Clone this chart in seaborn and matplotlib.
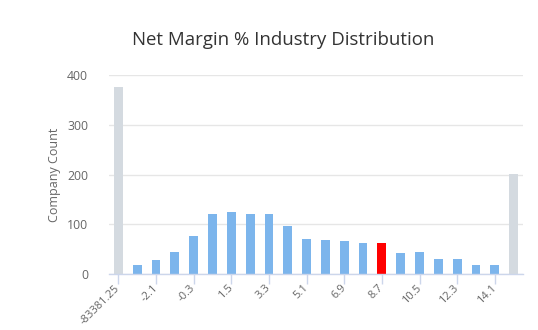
import matplotlib
matplotlib.use("Agg")
import matplotlib.pyplot as plt
import seaborn as sns
import pandas as pd

categories = ["-83381.25", "-3.0", "-2.1", "-1.2", "-0.3", "0.6", "1.5", "2.4", "3.3", "4.2",
              "5.1", "6.0", "6.9", "7.8", "8.7", "9.6", "10.5", "11.4", "12.3", "13.2", "14.1", "15.0"]
counts = [376, 19, 29, 45, 77, 121, 125, 121, 121, 97,
          71, 69, 67, 63, 63, 43, 45, 31, 31, 19, 19, 201]
groups = ["outlier"] + ["normal"] * 13 + ["company"] + ["normal"] * 6 + ["outlier"]
tick_labels = ["-83381.25", "-2.1", "-0.3", "1.5", "3.3", "5.1", "6.9", "8.7", "10.5", "12.3", "14.1"]

df = pd.DataFrame({"bin": categories, "count": counts, "group": groups})

sns.set_theme(style="white")
plt.rcParams["font.family"] = ["Open Sans", "DejaVu Sans"]

fig = plt.figure(figsize=(5.38, 3.30), dpi=100)
ax = fig.add_axes([109 / 538, 1 - 274 / 330, (523 - 109) / 538, (274 - 75) / 330])

palette = {"normal": "#7cb5ec", "outlier": "#d4dae0", "company": "#ff0000"}
sns.barplot(data=df, x="bin", y="count", hue="group", order=categories,
            palette=palette, dodge=False, width=0.47, legend=False, ax=ax,
            saturation=1, linewidth=0)

ax.set_xlim(-0.5, len(categories) - 0.5)
ax.set_ylim(0, 400)
ax.set_yticks([0, 100, 200, 300, 400])
ax.grid(axis="y", color="#e6e6e6", linewidth=1)
ax.set_axisbelow(True)

for s in ["top", "right", "left"]:
    ax.spines[s].set_visible(False)
ax.spines["bottom"].set_color("#ccd6eb")
ax.spines["bottom"].set_linewidth(1)

ax.set_xticks(range(0, len(categories), 2))
ax.set_xticklabels(tick_labels, rotation=45, ha="right", va="center", rotation_mode="anchor",
                   fontsize=8.0, color="#666666")
ax.tick_params(axis="x", length=7, color="#ccd6eb", width=1, pad=2, bottom=True)
ax.tick_params(axis="y", length=0, pad=15, labelsize=8.8, labelcolor="#666666")

ax.set_xlabel("")
ax.set_ylabel("Company Count", fontsize=9, color="#666666", labelpad=4)

fig.text(283 / 538, 1 - 40 / 330, "Net Margin % Industry Distribution",
         ha="center", va="center", fontsize=13.4, color="#333333")

fig.savefig("out.png", dpi=100)
